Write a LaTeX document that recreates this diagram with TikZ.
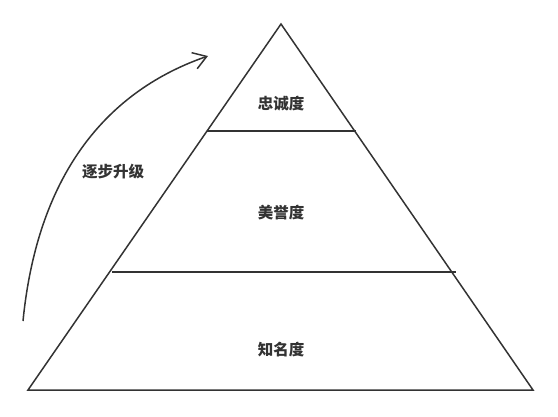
\documentclass[tikz,border=0pt]{standalone}
\usepackage{fontspec}
\newfontfamily\cjk{Noto Sans CJK SC}
\usetikzlibrary{arrows.meta}
\definecolor{ink}{HTML}{333333}
\tikzset{
  edge/.style={draw=ink, line width=1.5pt, line join=miter},
  lbl/.style={text=ink, font=\cjk\bfseries\fontsize{15.5}{18}\selectfont, inner sep=0pt},
  rise/.style={draw=ink, line width=1.5pt, -{Straight Barb[length=13pt,width=17pt,line width=1.5pt]}}
}
\begin{document}
\begin{tikzpicture}[x=1pt,y=-1pt]
\useasboundingbox (0,0) rectangle (558,416);
\coordinate (apex) at (281,24);
\coordinate (bl) at (28,390);
\coordinate (br) at (533,390);
\draw[edge] (apex) -- (bl) -- (br) -- cycle;
\coordinate (ul) at (207,131);
\coordinate (ur) at (356,131);
\draw[edge] (ul) -- (ur);
\coordinate (ml) at (112,272);
\coordinate (mr) at (456,272);
\draw[edge] (ml) -- (mr);
\node[lbl] (top) at (281,104) {忠诚度};
\node[lbl] (mid) at (281,213) {美誉度};
\node[lbl] (bot) at (281,350) {知名度};
\node[lbl] (up) at (113,172) {逐步升级};
\coordinate (s) at (23,321);
\coordinate (e) at (208,56);
\draw[rise] (s) .. controls (38,170) and (110,90) .. (e);
\end{tikzpicture}
\end{document}
